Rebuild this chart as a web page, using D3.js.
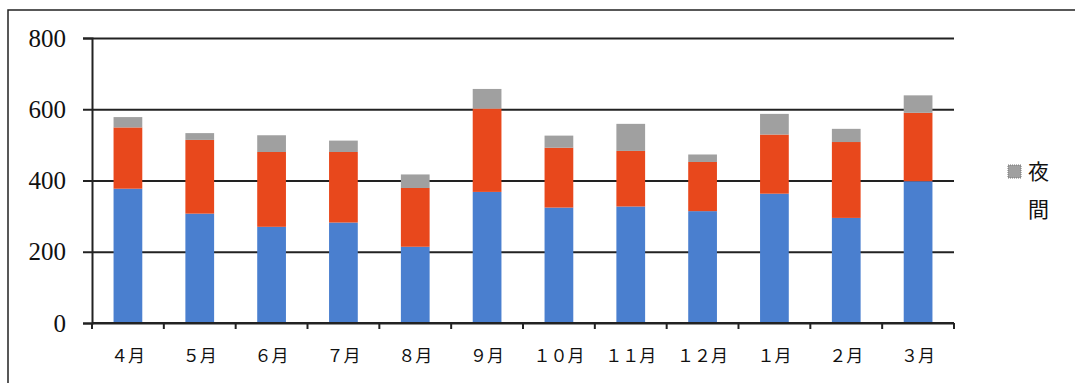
<!DOCTYPE html>
<html lang="ja">
<head>
<meta charset="UTF-8">
<title>月別件数</title>
<style>
    body { margin: 0; background: #fff; }
    svg { display: block; }
</style>
</head>
<body>
<svg id="chart"></svg>
<script src="https://d3js.org/d3.v7.min.js"></script>
<script>
// values
const months = ['４月', '５月', '６月', '７月', '８月', '９月', '１０月', '１１月', '１２月', '１月', '２月', '３月'];
const seriesNames = ['昼間', '夕方', '夜間'];
const daytime = [377, 307, 270, 282, 214, 368, 324, 327, 314, 363, 295, 398];
const evening = [172, 207, 210, 198, 165, 234, 168, 156, 138, 166, 213, 192];
const night = [29, 19, 47, 32, 38, 55, 34, 76, 21, 58, 37, 49];
const yTicks = [0, 200, 400, 600, 800];
const colors = ['#4a7fcf', '#e8481c', '#a0a0a0'];

const width = 1075, height = 383;
const margin = { left: 92, right: 121, top: 38, bottom: 60 };

const svg = d3.select('#chart').attr('width', width).attr('height', height);

// outer frame (top and left edges visible)
svg.append('path')
    .attr('d', `M8,${height} L8,10 L${width},10`)
    .attr('fill', 'none')
    .attr('stroke', '#222')
    .attr('stroke-width', 1.5);

const x = d3.scaleBand()
    .domain(months)
    .range([margin.left, width - margin.right]);

const y = d3.scaleLinear()
    .domain([0, 800])
    .range([height - margin.bottom, margin.top]);

// gridlines
svg.append('g')
    .attr('transform', `translate(${margin.left},0)`)
    .call(d3.axisLeft(y).tickValues(yTicks).tickSize(-(width - margin.left - margin.right)).tickSizeOuter(0))
    .call(g => g.select('.domain').remove())
    .call(g => g.selectAll('.tick line').attr('stroke', '#222').attr('stroke-width', 2))
    .call(g => g.selectAll('.tick text').remove());

// y axis with outward ticks
svg.append('g')
    .attr('transform', `translate(${margin.left},0)`)
    .call(d3.axisLeft(y).tickValues(yTicks).tickSize(9).tickFormat(''))
    .call(g => g.select('.domain').attr('stroke', '#222').attr('stroke-width', 2))
    .call(g => g.selectAll('.tick line').attr('stroke', '#222').attr('stroke-width', 2));

// y labels in a serif face
svg.append('g').selectAll('text')
    .data(yTicks)
    .join('text')
    .attr('x', 66)
    .attr('y', d => y(d))
    .attr('dy', '0.34em')
    .attr('text-anchor', 'end')
    .attr('fill', '#111')
    .attr('font-family', 'Liberation Serif, DejaVu Serif, serif')
    .attr('font-size', 25)
    .text(d => d);

// stacked bars
const table = months.map((m, i) => ({ month: m, [seriesNames[0]]: daytime[i], [seriesNames[1]]: evening[i], [seriesNames[2]]: night[i] }));
const stacked = d3.stack().keys(seriesNames)(table);
const barW = x.bandwidth() * 0.4;

svg.append('g').selectAll('g')
    .data(stacked)
    .join('g')
    .attr('fill', (d, i) => colors[i])
    .selectAll('rect')
    .data(d => d)
    .join('rect')
    .attr('x', d => x(d.data.month) + (x.bandwidth() - barW) / 2)
    .attr('width', barW)
    .attr('y', d => y(d[1]))
    .attr('height', d => y(d[0]) - y(d[1]));

// x axis with boundary ticks
const xAxisY = y(0);
svg.append('line')
    .attr('x1', margin.left).attr('x2', width - margin.right)
    .attr('y1', xAxisY).attr('y2', xAxisY)
    .attr('stroke', '#222').attr('stroke-width', 2);

svg.append('g').selectAll('line')
    .data(months.concat(['end']))
    .join('line')
    .attr('x1', (d, i) => margin.left + i * x.step())
    .attr('x2', (d, i) => margin.left + i * x.step())
    .attr('y1', xAxisY)
    .attr('y2', xAxisY + 6)
    .attr('stroke', '#222').attr('stroke-width', 2);

svg.append('g').selectAll('text')
    .data(months)
    .join('text')
    .attr('x', d => x(d) + x.bandwidth() / 2)
    .attr('y', 362)
    .attr('text-anchor', 'middle')
    .attr('fill', '#111')
    .attr('font-family', 'Noto Sans CJK JP, sans-serif')
    .attr('font-size', 17)
    .text(d => d);

// legend: only the 夜間 entry is shown, wrapped on two lines
const legend = svg.append('g').attr('transform', 'translate(1008,165)');
legend.append('rect')
    .attr('width', 13).attr('height', 13)
    .attr('fill', colors[2])
    .attr('stroke', '#777').attr('stroke-dasharray', '1,1');
legend.append('text')
    .attr('x', 20).attr('y', 14)
    .attr('font-family', 'Noto Sans CJK JP, sans-serif')
    .attr('font-size', 21)
    .attr('fill', '#111')
    .selectAll('tspan')
    .data(seriesNames[2].split(''))
    .join('tspan')
    .attr('x', 20)
    .attr('dy', (d, i) => i === 0 ? 0 : 38)
    .text(d => d);
</script>
</body>
</html>
